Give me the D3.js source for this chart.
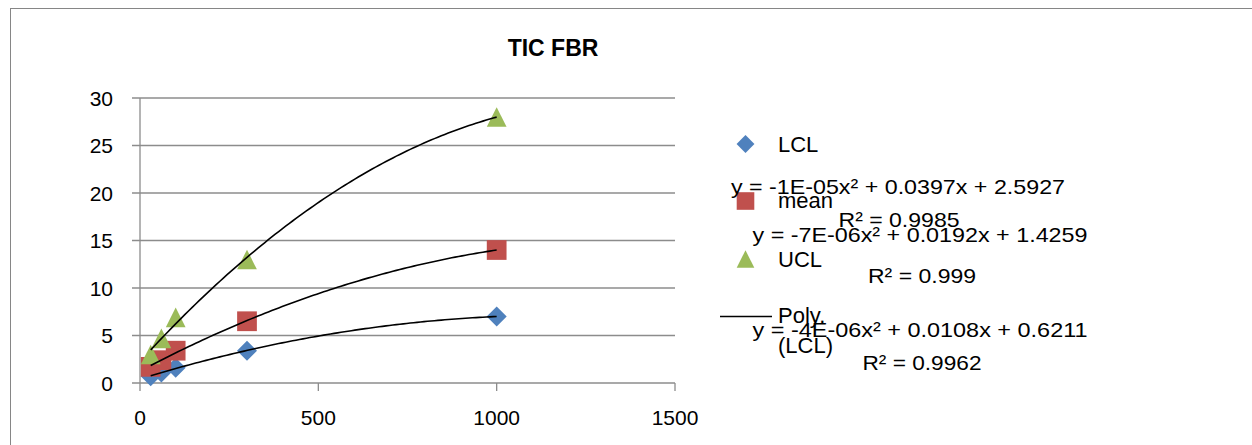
<!DOCTYPE html>
<html>
<head>
<meta charset="utf-8">
<script src="https://cdn.jsdelivr.net/npm/d3@7"></script>
<style>
  html, body { margin: 0; padding: 0; background: #fff; }
  svg { display: block; }
  text { font-family: "Liberation Sans", Arial, sans-serif; fill: #000; }
</style>
</head>
<body>
<svg id="chart" width="1252" height="445"></svg>
<script>
// Concentrations (x) and control limits for each level
const xValues = [30, 60, 100, 300, 1000];
const lclValues = [0.7, 1.1, 1.6, 3.4, 7.0];
const meanValues = [1.7, 2.4, 3.4, 6.5, 14.0];
const uclValues = [3.0, 4.7, 6.9, 13.0, 28.0];

const seriesNames = ["LCL", "mean", "UCL"];
const seriesColors = ["#4F81BD", "#C0504D", "#9BBB59"];

const xTicks = [0, 500, 1000, 1500];
const yTicks = [0, 5, 10, 15, 20, 25, 30];

// Trendline labels, as printed next to the legend
const equationLabels = [
  "y = -1E-05x² + 0.0397x + 2.5927",
  "y = -7E-06x² + 0.0192x + 1.4259",
  "y = -4E-06x² + 0.0108x + 0.6211"
];
const rSquaredLabels = ["R² = 0.9985", "R² = 0.999", "R² = 0.9962"];

const svg = d3.select("#chart");

// outer chart frame
svg.append("rect")
  .attr("x", 10.5).attr("y", 8.5)
  .attr("width", 1300).attr("height", 500)
  .attr("fill", "none").attr("stroke", "#868686").attr("stroke-width", 1);

const x = d3.scaleLinear().domain([0, 1500]).range([140, 675]);
const y = d3.scaleLinear().domain([0, 30]).range([383, 98]);

const gridColor = "#8c8c8c";

// horizontal gridlines with short ticks on the left
svg.append("g").selectAll("line").data(yTicks).join("line")
  .attr("x1", 132).attr("x2", x(1500))
  .attr("y1", d => y(d)).attr("y2", d => y(d))
  .attr("stroke", gridColor).attr("stroke-width", 1.3);

// y axis line
svg.append("line")
  .attr("x1", x(0)).attr("x2", x(0))
  .attr("y1", y(30)).attr("y2", y(0))
  .attr("stroke", gridColor).attr("stroke-width", 1.3);

// x tick marks below the axis
svg.append("g").selectAll("line").data(xTicks).join("line")
  .attr("x1", d => x(d)).attr("x2", d => x(d))
  .attr("y1", y(0)).attr("y2", y(0) + 8)
  .attr("stroke", gridColor).attr("stroke-width", 1.3);

// tick labels
svg.append("g").selectAll("text").data(yTicks).join("text")
  .attr("x", 113).attr("y", d => y(d) + 7.5)
  .attr("text-anchor", "end")
  .style("font-size", "21px")
  .text(d => d);

svg.append("g").selectAll("text").data(xTicks).join("text")
  .attr("x", d => x(d)).attr("y", 425)
  .attr("text-anchor", "middle")
  .style("font-size", "21px")
  .text(d => d);

// title
svg.append("text")
  .attr("x", 553).attr("y", 56)
  .attr("text-anchor", "middle")
  .style("font-size", "23px").style("font-weight", "bold")
  .text("TIC FBR");

// marker shapes: diamond (rotated square), square, isosceles triangle
const diamondType = {
  draw(ctx, size) {
    const r = Math.sqrt(size) / 2;
    ctx.moveTo(0, -r); ctx.lineTo(r, 0); ctx.lineTo(0, r); ctx.lineTo(-r, 0); ctx.closePath();
  }
};
const squareType = {
  draw(ctx, size) {
    const r = Math.sqrt(size) / 2;
    ctx.rect(-r, -r, 2 * r, 2 * r);
  }
};
const triangleType = {
  draw(ctx, size) {
    const r = Math.sqrt(size) / 2;
    ctx.moveTo(0, -r); ctx.lineTo(r, r); ctx.lineTo(-r, r); ctx.closePath();
  }
};
const shapes = [diamondType, squareType, triangleType];
const seriesValues = [lclValues, meanValues, uclValues];

// data markers
seriesValues.forEach((vals, i) => {
  svg.append("g").selectAll("path").data(vals).join("path")
    .attr("transform", (d, j) => `translate(${x(xValues[j])},${y(d)})`)
    .attr("d", d3.symbol().type(shapes[i]).size(i === 0 ? 400 : 390))
    .attr("fill", seriesColors[i]);
});

// least-squares quadratic fit y = a x^2 + b x + c
function quadFit(xs, ys) {
  const n = xs.length;
  let s = [0, 0, 0, 0, 0], t = [0, 0, 0];
  for (let k = 0; k < n; k++) {
    let p = 1;
    for (let e = 0; e <= 4; e++) { s[e] += p; if (e <= 2) t[e] += p * ys[k]; p *= xs[k]; }
  }
  // normal equations in terms of [c, b, a]
  const M = [
    [s[0], s[1], s[2], t[0]],
    [s[1], s[2], s[3], t[1]],
    [s[2], s[3], s[4], t[2]]
  ];
  for (let col = 0; col < 3; col++) {
    let piv = col;
    for (let r = col + 1; r < 3; r++) if (Math.abs(M[r][col]) > Math.abs(M[piv][col])) piv = r;
    [M[col], M[piv]] = [M[piv], M[col]];
    for (let r = 0; r < 3; r++) {
      if (r === col) continue;
      const f = M[r][col] / M[col][col];
      for (let k = col; k < 4; k++) M[r][k] -= f * M[col][k];
    }
  }
  const c = M[0][3] / M[0][0], b = M[1][3] / M[1][1], a = M[2][3] / M[2][2];
  return xv => a * xv * xv + b * xv + c;
}

// polynomial trendlines, drawn over the markers
const xMin = d3.min(xValues), xMax = d3.max(xValues);
const samples = d3.range(0, 101).map(k => xMin + (xMax - xMin) * k / 100);
const line = d3.line().x(d => x(d[0])).y(d => y(d[1]));
seriesValues.forEach(vals => {
  const f = quadFit(xValues, vals);
  svg.append("path")
    .attr("d", line(samples.map(sx => [sx, f(sx)])))
    .attr("fill", "none").attr("stroke", "#000").attr("stroke-width", 1.6);
});

// legend
const legendY = [144, 201, 259];
seriesNames.forEach((name, i) => {
  svg.append("path")
    .attr("transform", `translate(745.5,${legendY[i]})`)
    .attr("d", d3.symbol().type(shapes[i]).size(i === 0 ? 320 : 310))
    .attr("fill", seriesColors[i]);
});
svg.append("text").attr("x", 778).attr("y", 152).style("font-size", "22px").text(seriesNames[0]);
svg.append("text").attr("x", 778).attr("y", 208).style("font-size", "22px").text(seriesNames[1]);
svg.append("text").attr("x", 778).attr("y", 267).style("font-size", "22px").text(seriesNames[2]);
svg.append("line")
  .attr("x1", 720).attr("x2", 772).attr("y1", 316.5).attr("y2", 316.5)
  .attr("stroke", "#000").attr("stroke-width", 1.6);
svg.append("text").attr("x", 778).attr("y", 323).style("font-size", "22px").text("Poly.");
svg.append("text").attr("x", 778).attr("y", 353).style("font-size", "22px").text("(LCL)");

// trendline equations and R² values (slightly condensed lettering)
const eqPos = [[898, 194], [920, 242], [920, 337]];
const eqWidth = [334, 335, 335];
const rPos = [[899, 227], [922, 283], [922, 370]];
const rWidth = [121, 108, 119];
equationLabels.forEach((t, i) => {
  svg.append("text").attr("x", eqPos[i][0]).attr("y", eqPos[i][1])
    .attr("text-anchor", "middle").style("font-size", "21px")
    .attr("textLength", eqWidth[i]).attr("lengthAdjust", "spacingAndGlyphs")
    .text(t);
  svg.append("text").attr("x", rPos[i][0]).attr("y", rPos[i][1])
    .attr("text-anchor", "middle").style("font-size", "21px")
    .attr("textLength", rWidth[i]).attr("lengthAdjust", "spacingAndGlyphs")
    .text(rSquaredLabels[i]);
});
</script>
</body>
</html>
